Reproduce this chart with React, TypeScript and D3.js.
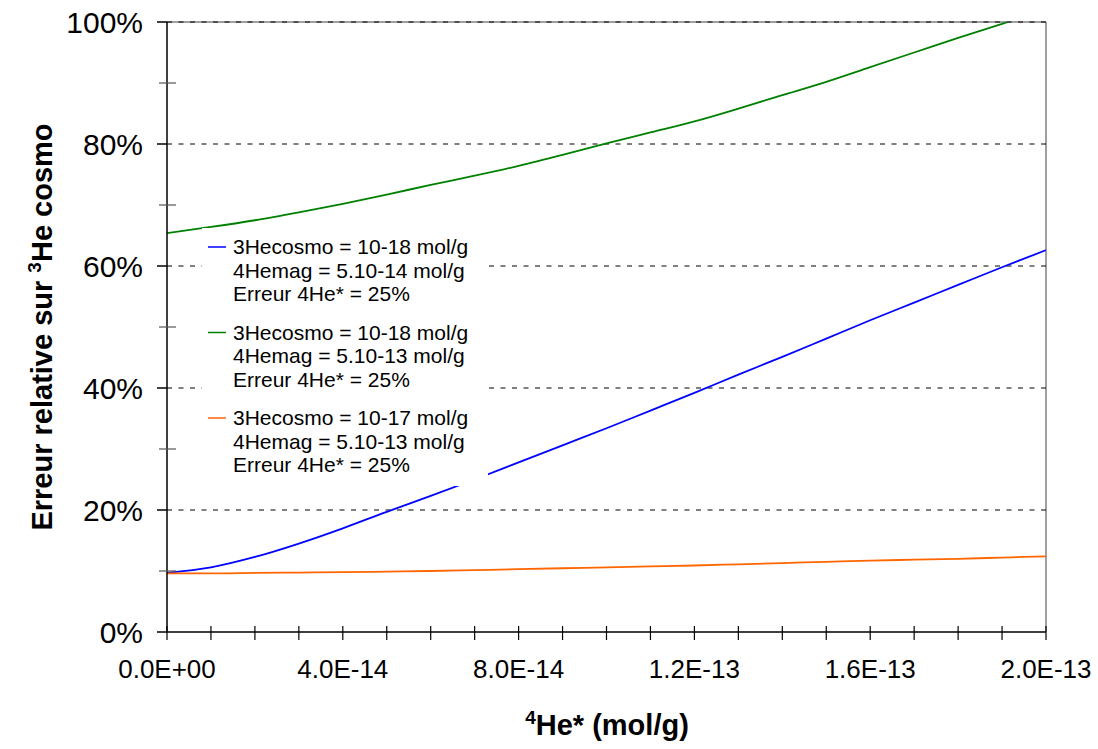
import React from "react";
import * as d3 from "d3";

const xValues = [0, 1e-14, 2e-14, 3e-14, 4e-14, 5e-14, 6e-14, 7e-14, 8e-14, 9e-14, 1e-13, 1.1e-13, 1.2e-13, 1.3e-13, 1.4e-13, 1.5e-13, 1.6e-13, 1.7e-13, 1.8e-13, 1.9e-13, 2e-13];
const blueSeries = [9.7, 10.6, 12.3, 14.5, 17.0, 19.7, 22.3, 25.0, 27.8, 30.6, 33.4, 36.3, 39.2, 42.2, 45.1, 48.1, 51.1, 54.0, 56.9, 59.8, 62.6];
const greenSeries = [65.4, 66.4, 67.5, 68.8, 70.2, 71.7, 73.3, 74.8, 76.4, 78.2, 80.1, 81.9, 83.7, 85.8, 88.0, 90.2, 92.6, 95.0, 97.4, 99.7, 102.1];
const orangeSeries = [9.6, 9.6, 9.7, 9.75, 9.8, 9.9, 10.0, 10.15, 10.3, 10.45, 10.6, 10.75, 10.9, 11.1, 11.3, 11.5, 11.7, 11.85, 12.0, 12.2, 12.4];

const xTickValues = [0, 4e-14, 8e-14, 1.2e-13, 1.6e-13, 2e-13];
const xTickLabels = ["0.0E+00", "4.0E-14", "8.0E-14", "1.2E-13", "1.6E-13", "2.0E-13"];
const xMinorTicks = xValues;
const yTickValues = [0, 20, 40, 60, 80, 100];
const yTickLabels = ["0%", "20%", "40%", "60%", "80%", "100%"];
const yMinorTicks = [10, 30, 50, 70, 90];

const seriesColors = ["#0000FF", "#008000", "#FF6600"];
const legendLabels = [
  ["3Hecosmo = 10-18 mol/g", "4Hemag = 5.10-14 mol/g", "Erreur 4He* = 25%"],
  ["3Hecosmo = 10-18 mol/g", "4Hemag = 5.10-13 mol/g", "Erreur 4He* = 25%"],
  ["3Hecosmo = 10-17 mol/g", "4Hemag = 5.10-13 mol/g", "Erreur 4He* = 25%"],
];

const FONT = "'Liberation Sans', Arial, Helvetica, sans-serif";

export default function App() {
  const W = 1098, H = 749;
  const left = 167, right = 1046, top = 22, bottom = 632;
  const x = d3.scaleLinear().domain([0, 2e-13]).range([left, right]);
  const y = d3.scaleLinear().domain([0, 100]).range([bottom, top]);
  const series = [blueSeries, greenSeries, orangeSeries];
  const line = d3
    .line<number>()
    .x((_, i) => x(xValues[i]))
    .y((d) => y(d))
    .curve(d3.curveMonotoneX);

  return (
    <svg width={W} height={H} style={{ position: "absolute", left: 0, top: 0, background: "#fff" }} fontFamily={FONT}>
      <defs>
        <clipPath id="plotClip">
          <rect x={left} y={top} width={right - left} height={bottom - top} />
        </clipPath>
      </defs>
      {/* plot border (gray) */}
      <line x1={left} x2={right} y1={top} y2={top} stroke="#808080" strokeWidth={1.5} />
      <line x1={right} x2={right} y1={top} y2={bottom} stroke="#808080" strokeWidth={1.5} />
      {/* gridlines */}
      {yTickValues.filter((v) => v > 0).map((v) => (
        <line key={"g" + v} x1={left} x2={right} y1={y(v)} y2={y(v)} stroke="#000" strokeWidth={1} strokeDasharray="5,6.5" />
      ))}
      {/* series */}
      <g clipPath="url(#plotClip)">
        {series.map((s, i) => (
          <path key={"s" + i} d={line(s) || ""} fill="none" stroke={seriesColors[i]} strokeWidth={1.8} />
        ))}
      </g>
      {/* legend */}
      <rect x={202} y={228} width={286} height={258} fill="#fff" />
      {legendLabels.map((lines, gi) => {
        const y0 = 247 + gi * 85.5;
        return (
          <g key={"l" + gi}>
            <line x1={208} x2={226} y1={y0} y2={y0} stroke={seriesColors[gi]} strokeWidth={1.5} />
            {lines.map((t, li) => (
              <text key={li} x={233} y={y0 + li * 23.5} dy="0.35em" fontSize={21} fill="#000">
                {t}
              </text>
            ))}
          </g>
        );
      })}
      {/* axes */}
      <line x1={left} x2={left} y1={top} y2={bottom} stroke="#000" strokeWidth={1.5} />
      <line x1={left} x2={right} y1={bottom} y2={bottom} stroke="#000" strokeWidth={1.5} />
      {yTickValues.map((v) => (
        <line key={"yt" + v} x1={left - 10} x2={left} y1={y(v)} y2={y(v)} stroke="#000" strokeWidth={1.5} />
      ))}
      {yMinorTicks.map((v) => (
        <line key={"ym" + v} x1={left - 8} x2={left + 9} y1={y(v)} y2={y(v)} stroke="#555" strokeWidth={1.2} />
      ))}
      {xMinorTicks.map((v, i) => (
        <line key={"xm" + i} x1={x(v)} x2={x(v)} y1={bottom - 6} y2={bottom + 8} stroke="#000" strokeWidth={1.2} />
      ))}
      {yTickValues.map((v, i) => (
        <text key={"yl" + v} x={143} y={y(v)} dy="0.36em" textAnchor="end" fontSize={30} fill="#000">
          {yTickLabels[i]}
        </text>
      ))}
      {xTickValues.map((v, i) => (
        <text key={"xl" + i} x={x(v)} y={678} textAnchor="middle" fontSize={26} fill="#000">
          {xTickLabels[i]}
        </text>
      ))}
      {/* axis titles */}
      <text x={607} y={735} textAnchor="middle" fontSize={29} fontWeight="bold" fill="#000">
        <tspan fontSize={19} dy={-11}>4</tspan>
        <tspan dy={11}>He* (mol/g)</tspan>
      </text>
      <text transform={`translate(52,327) rotate(-90)`} textAnchor="middle" fontSize={29} fontWeight="bold" fill="#000">
        Erreur relative sur <tspan fontSize={19} dy={-11}>3</tspan>
        <tspan dy={11}>He cosmo</tspan>
      </text>
    </svg>
  );
}
